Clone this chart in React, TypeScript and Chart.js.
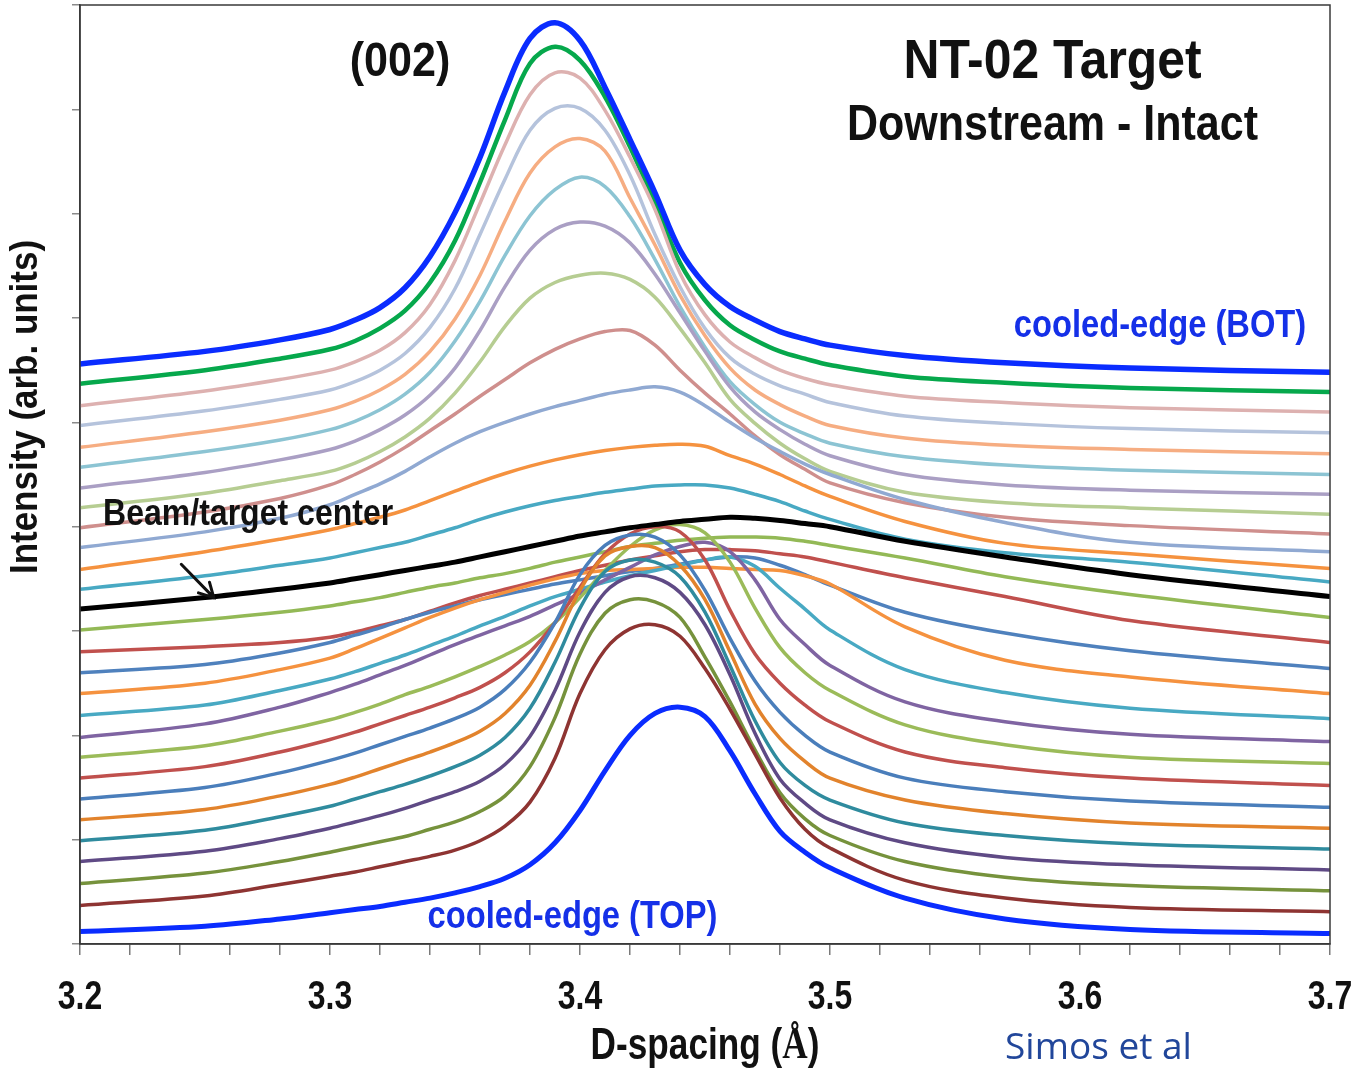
import { useEffect, useRef } from "react";
import { Chart, registerables } from "chart.js";

Chart.register(...registerables);

const W = 1359;
const H = 1071;

// D-spacing grid (Å) shared by every scan
const dSpacing = [3.2, 3.25, 3.28, 3.3, 3.31, 3.32, 3.33, 3.34, 3.35, 3.36, 3.37, 3.38, 3.39, 3.4, 3.41, 3.42, 3.43, 3.44, 3.45, 3.46, 3.47, 3.48, 3.49, 3.5, 3.53, 3.57, 3.62, 3.7];

// Stacked (002) profiles, from the cooled edge at the top (01) to the cooled edge at the bottom (28)
const scan01 = [0.12, 0.17, 0.24, 0.3, 0.33, 0.36, 0.4, 0.44, 0.49, 0.55, 0.63, 0.76, 0.97, 1.28, 1.66, 2.0, 2.21, 2.27, 2.18, 1.85, 1.44, 1.08, 0.88, 0.73, 0.44, 0.24, 0.14, 0.1];
const scan02 = [0.37, 0.46, 0.57, 0.65, 0.69, 0.74, 0.79, 0.84, 0.9, 0.99, 1.13, 1.36, 1.78, 2.4, 2.82, 3.02, 3.06, 2.95, 2.64, 2.25, 1.82, 1.4, 1.1, 0.92, 0.61, 0.44, 0.35, 0.31];
const scan03 = [0.58, 0.68, 0.79, 0.88, 0.93, 0.98, 1.03, 1.1, 1.17, 1.27, 1.42, 1.7, 2.17, 2.78, 3.17, 3.3, 3.28, 3.13, 2.75, 2.32, 1.86, 1.45, 1.2, 1.04, 0.79, 0.64, 0.56, 0.51];
const scan04 = [0.79, 0.89, 1.01, 1.11, 1.17, 1.23, 1.3, 1.38, 1.46, 1.56, 1.72, 1.99, 2.43, 2.99, 3.37, 3.52, 3.51, 3.37, 3.06, 2.58, 2.02, 1.58, 1.35, 1.19, 0.97, 0.83, 0.76, 0.71];
const scan05 = [0.99, 1.09, 1.22, 1.32, 1.39, 1.46, 1.53, 1.61, 1.7, 1.81, 1.98, 2.26, 2.7, 3.22, 3.57, 3.68, 3.66, 3.52, 3.18, 2.67, 2.14, 1.74, 1.52, 1.38, 1.16, 1.04, 0.96, 0.91];
const scan06 = [1.19, 1.29, 1.42, 1.53, 1.6, 1.68, 1.76, 1.84, 1.93, 2.04, 2.21, 2.48, 2.9, 3.39, 3.72, 3.81, 3.8, 3.63, 3.3, 2.8, 2.3, 1.97, 1.75, 1.59, 1.38, 1.25, 1.16, 1.11];
const scan07 = [1.39, 1.5, 1.64, 1.76, 1.83, 1.91, 1.99, 2.07, 2.16, 2.27, 2.44, 2.7, 3.08, 3.54, 3.82, 3.92, 3.9, 3.73, 3.39, 2.93, 2.52, 2.22, 2.0, 1.84, 1.59, 1.46, 1.37, 1.31];
const scan08 = [1.59, 1.7, 1.84, 1.96, 2.03, 2.11, 2.19, 2.27, 2.36, 2.46, 2.6, 2.8, 3.08, 3.42, 3.74, 3.93, 4.0, 3.95, 3.68, 3.2, 2.78, 2.5, 2.29, 2.13, 1.84, 1.69, 1.59, 1.52];
const scan09 = [1.79, 1.9, 2.04, 2.15, 2.22, 2.3, 2.39, 2.47, 2.56, 2.66, 2.77, 2.9, 3.08, 3.32, 3.58, 3.81, 3.97, 4.02, 3.94, 3.66, 3.22, 2.84, 2.6, 2.43, 2.1, 1.91, 1.79, 1.73];
const scan10 = [1.98, 2.11, 2.27, 2.41, 2.49, 2.58, 2.67, 2.77, 2.87, 2.96, 3.05, 3.14, 3.25, 3.36, 3.49, 3.61, 3.73, 3.81, 3.85, 3.76, 3.49, 3.11, 2.87, 2.67, 2.32, 2.13, 2.01, 1.94];
const scan11 = [2.19, 2.29, 2.43, 2.54, 2.61, 2.69, 2.77, 2.86, 2.95, 3.05, 3.14, 3.24, 3.33, 3.4, 3.47, 3.53, 3.58, 3.63, 3.68, 3.71, 3.62, 3.41, 3.21, 3.01, 2.63, 2.41, 2.26, 2.16];
const scan12 = [2.4, 2.5, 2.63, 2.74, 2.83, 2.93, 3.03, 3.13, 3.22, 3.3, 3.37, 3.44, 3.5, 3.55, 3.58, 3.59, 3.6, 3.61, 3.61, 3.6, 3.59, 3.58, 3.53, 3.45, 3.04, 2.72, 2.56, 2.4];
const scan13 = [2.6, 2.68, 2.79, 2.89, 2.96, 3.03, 3.11, 3.18, 3.24, 3.3, 3.35, 3.4, 3.45, 3.49, 3.53, 3.57, 3.6, 3.64, 3.68, 3.71, 3.7, 3.63, 3.54, 3.44, 3.18, 2.98, 2.81, 2.64];
const scan14 = [2.8, 2.85, 2.89, 2.94, 2.99, 3.05, 3.11, 3.19, 3.27, 3.34, 3.4, 3.46, 3.52, 3.58, 3.63, 3.68, 3.72, 3.76, 3.78, 3.78, 3.77, 3.74, 3.71, 3.66, 3.51, 3.33, 3.1, 2.89];
const scan15 = [3.01, 3.11, 3.18, 3.24, 3.28, 3.32, 3.37, 3.42, 3.46, 3.51, 3.55, 3.6, 3.66, 3.71, 3.76, 3.81, 3.84, 3.87, 3.89, 3.9, 3.9, 3.89, 3.86, 3.82, 3.7, 3.52, 3.35, 3.13];
const scan16 = [3.21, 3.32, 3.4, 3.46, 3.5, 3.54, 3.58, 3.62, 3.66, 3.71, 3.76, 3.81, 3.86, 3.91, 3.95, 3.99, 4.02, 4.05, 4.07, 4.09, 4.08, 4.06, 4.03, 4.0, 3.86, 3.71, 3.54, 3.33];
const scan17 = [3.4, 3.53, 3.63, 3.7, 3.75, 3.8, 3.85, 3.92, 3.99, 4.07, 4.14, 4.2, 4.25, 4.29, 4.33, 4.36, 4.39, 4.4, 4.4, 4.37, 4.31, 4.24, 4.15, 4.07, 3.88, 3.75, 3.66, 3.47];
const scan18 = [3.59, 3.76, 3.88, 3.97, 4.03, 4.09, 4.16, 4.25, 4.34, 4.43, 4.51, 4.58, 4.64, 4.69, 4.73, 4.76, 4.78, 4.79, 4.77, 4.68, 4.6, 4.5, 4.39, 4.29, 4.05, 3.84, 3.74, 3.6];
const scan19 = [3.8, 3.95, 4.08, 4.21, 4.31, 4.41, 4.53, 4.67, 4.8, 4.91, 5.0, 5.08, 5.15, 5.21, 5.27, 5.31, 5.34, 5.29, 5.16, 5.0, 4.85, 4.72, 4.6, 4.5, 4.26, 4.04, 3.85, 3.76];
const scan20 = [3.99, 4.14, 4.27, 4.4, 4.5, 4.62, 4.76, 4.92, 5.08, 5.25, 5.41, 5.57, 5.7, 5.8, 5.87, 5.88, 5.74, 5.5, 5.28, 5.08, 4.87, 4.69, 4.55, 4.42, 4.23, 4.09, 4.01, 3.93];
const scan21 = [4.18, 4.32, 4.44, 4.53, 4.61, 4.72, 4.86, 5.04, 5.28, 5.58, 5.92, 6.19, 6.34, 6.41, 6.43, 6.37, 6.2, 5.9, 5.57, 5.22, 4.99, 4.8, 4.65, 4.53, 4.33, 4.23, 4.18, 4.12];
const scan22 = [4.37, 4.52, 4.64, 4.74, 4.82, 4.93, 5.07, 5.26, 5.52, 5.88, 6.3, 6.65, 6.85, 6.92, 6.88, 6.72, 6.42, 6.05, 5.68, 5.34, 5.1, 4.93, 4.79, 4.68, 4.5, 4.4, 4.35, 4.31];
const scan23 = [4.57, 4.72, 4.83, 4.93, 5.01, 5.12, 5.27, 5.48, 5.78, 6.16, 6.6, 6.98, 7.23, 7.35, 7.26, 6.97, 6.56, 6.11, 5.72, 5.39, 5.17, 5.0, 4.89, 4.8, 4.67, 4.59, 4.54, 4.5];
const scan24 = [4.76, 4.91, 5.02, 5.12, 5.2, 5.31, 5.46, 5.68, 5.99, 6.41, 6.93, 7.39, 7.64, 7.72, 7.6, 7.15, 6.7, 6.22, 5.83, 5.52, 5.31, 5.17, 5.06, 4.97, 4.85, 4.78, 4.74, 4.7];
const scan25 = [4.97, 5.11, 5.22, 5.31, 5.39, 5.5, 5.66, 5.91, 6.28, 6.8, 7.33, 7.8, 8.01, 8.01, 7.8, 7.37, 6.8, 6.3, 5.9, 5.62, 5.46, 5.35, 5.27, 5.19, 5.06, 4.99, 4.94, 4.9];
const scan26 = [5.16, 5.3, 5.41, 5.5, 5.58, 5.69, 5.86, 6.13, 6.55, 7.1, 7.66, 8.14, 8.35, 8.3, 7.99, 7.54, 7.04, 6.43, 6.03, 5.77, 5.62, 5.5, 5.42, 5.36, 5.25, 5.19, 5.14, 5.1];
const scan27 = [5.37, 5.5, 5.61, 5.7, 5.78, 5.9, 6.07, 6.34, 6.74, 7.3, 7.9, 8.44, 8.6, 8.47, 8.12, 7.64, 7.1, 6.53, 6.17, 5.93, 5.79, 5.68, 5.61, 5.55, 5.44, 5.38, 5.33, 5.29];
const scan28 = [5.56, 5.68, 5.79, 5.89, 5.98, 6.1, 6.29, 6.59, 7.01, 7.54, 8.17, 8.68, 8.83, 8.66, 8.21, 7.71, 7.2, 6.65, 6.32, 6.11, 5.98, 5.87, 5.8, 5.74, 5.64, 5.57, 5.52, 5.48];

const scans = [
  scan01, scan02, scan03, scan04, scan05, scan06, scan07, scan08, scan09, scan10,
  scan11, scan12, scan13, scan14, scan15, scan16, scan17, scan18, scan19, scan20,
  scan21, scan22, scan23, scan24, scan25, scan26, scan27, scan28,
];

const scanColors = [
  "#0a2cff", "#8e3432", "#76923c", "#5f4a85", "#2f8b9e", "#e2832c", "#4a7ebb", "#c0504d",
  "#9bbb59", "#7f64a2", "#48a9c3", "#f5923f", "#4f81bd", "#c0504d", "#93b956", "#000000",
  "#48a9c3", "#f5923f", "#90a9d2", "#cf8f8d", "#b6cd92", "#aa9fc4", "#8cc4d3", "#f6ad82",
  "#b5c3dc", "#ddb1b0", "#06a84c", "#0a2cff",
];

const scanWidths = [
  5, 3.5, 3.5, 3.5, 3.5, 3.5, 3.5, 3.5, 3.5, 3.5, 3.5, 3.5, 3.5, 3.5, 3.5, 5,
  3.5, 3.5, 3.5, 3.5, 3.5, 3.5, 3.5, 3.5, 3.5, 3.5, 4.5, 5.5,
];

const xTicks = [3.2, 3.22, 3.24, 3.26, 3.28, 3.3, 3.32, 3.34, 3.36, 3.38, 3.4, 3.42, 3.44, 3.46, 3.48, 3.5, 3.52, 3.54, 3.56, 3.58, 3.6, 3.62, 3.64, 3.66, 3.68, 3.7];
const xTickLabels = ["3.2", "3.3", "3.4", "3.5", "3.6", "3.7"];
const yTicks = [0, 1, 2, 3, 4, 5, 6, 7, 8, 9];

const SANS = "'Liberation Sans', Arial, Helvetica, sans-serif";
const BLUE_TEXT = "#1530e8";

function drawText(
  ctx: CanvasRenderingContext2D,
  str: string,
  x: number,
  y: number,
  font: string,
  color: string,
  sx = 1,
  align: CanvasTextAlign = "center",
  rot = 0
) {
  ctx.save();
  ctx.translate(x, y);
  if (rot) ctx.rotate(rot);
  ctx.scale(sx, 1);
  ctx.font = font;
  ctx.fillStyle = color;
  ctx.textAlign = align;
  ctx.textBaseline = "middle";
  ctx.fillText(str, 0, 0);
  ctx.restore();
}

const decorations = {
  id: "decorations",
  afterDraw(chart: any) {
    const { ctx, chartArea: a, scales } = chart;
    const xs = scales.x;
    const ys = scales.y;
    const px = (v: number) => xs.getPixelForValue(v);
    const py = (v: number) => ys.getPixelForValue(v);

    ctx.save();
    // frame around the plot
    ctx.strokeStyle = "#3a3a3a";
    ctx.lineWidth = 1.5;
    ctx.strokeRect(a.left, a.top, a.right - a.left, a.bottom - a.top);

    // x tick labels at every 0.1 Å
    xTickLabels.forEach((lab) => {
      drawText(ctx, lab, px(parseFloat(lab)), 998, `bold 41px ${SANS}`, "#111", 0.78);
    });

    // axis titles
    drawText(ctx, "Intensity (arb. units)", 27, 407, `bold 38px ${SANS}`, "#111", 0.92, "center", -Math.PI / 2);

    const main = "D-spacing (";
    const sansFont = `bold 44px ${SANS}`;
    const serifFont = "bold 44px 'Liberation Serif', 'Times New Roman', serif";
    const sx = 0.8;
    ctx.font = sansFont;
    const w1 = ctx.measureText(main).width;
    const w3 = ctx.measureText(")").width;
    ctx.font = serifFont;
    const w2 = ctx.measureText("Å").width;
    const total = (w1 + w2 + w3) * sx;
    let cx = 705 - total / 2;
    drawText(ctx, main, cx, 1047, sansFont, "#111", sx, "left");
    cx += w1 * sx;
    drawText(ctx, "Å", cx, 1047, serifFont, "#111", sx, "left");
    cx += w2 * sx;
    drawText(ctx, ")", cx, 1047, sansFont, "#111", sx, "left");

    // panel annotations
    drawText(ctx, "(002)", px(3.328), py(8.45), `bold 49px ${SANS}`, "#111", 0.88);
    drawText(ctx, "NT-02 Target", px(3.589), py(8.45), `bold 56px ${SANS}`, "#111", 0.89);
    drawText(ctx, "Downstream - Intact", px(3.589), py(7.84), `bold 50px ${SANS}`, "#111", 0.86);
    drawText(ctx, "cooled-edge (BOT)", px(3.632), py(5.92), `bold 38px ${SANS}`, BLUE_TEXT, 0.86);
    drawText(ctx, "cooled-edge (TOP)", px(3.397), py(0.25), `bold 38px ${SANS}`, BLUE_TEXT, 0.86);
    drawText(ctx, "Beam/target center", px(3.2092), py(4.11), `bold 36px ${SANS}`, "#111", 0.89, "left");

    // arrow pointing at the beam-centre profile
    const x0 = px(3.2405), y0 = py(3.64);
    const x1 = px(3.2535), y1 = py(3.32);
    ctx.strokeStyle = "#111";
    ctx.lineWidth = 3;
    ctx.lineCap = "round";
    ctx.beginPath();
    ctx.moveTo(x0, y0);
    ctx.lineTo(x1, y1);
    const ang = Math.atan2(y1 - y0, x1 - x0);
    const hl = 16;
    ctx.moveTo(x1 - hl * Math.cos(ang - 0.5), y1 - hl * Math.sin(ang - 0.5));
    ctx.lineTo(x1, y1);
    ctx.lineTo(x1 - hl * Math.cos(ang + 0.5), y1 - hl * Math.sin(ang + 0.5));
    ctx.stroke();

    // source credit
    drawText(ctx, "Simos et al", 1005, 1048, "37px 'Open Sans', 'Noto Sans', sans-serif", "#21469a", 1.0, "left");
    ctx.restore();
  },
};

export default function App() {
  const ref = useRef<HTMLCanvasElement | null>(null);

  useEffect(() => {
    document.body.style.margin = "0";
    const canvas = ref.current;
    if (!canvas) return;

    const datasets = scans.map((s, i) => ({
      label: `scan ${i + 1}`,
      data: dSpacing.map((d, j) => ({ x: d, y: s[j] })),
      borderColor: scanColors[i],
      borderWidth: scanWidths[i],
      pointRadius: 0,
      fill: false,
      tension: 0.35,
      order: i === 0 || i === 15 || i === 27 ? 0 : 1,
    }));

    const chart = new Chart(canvas, {
      type: "line",
      data: { datasets },
      options: {
        responsive: false,
        animation: false,
        devicePixelRatio: 1,
        layout: { padding: { top: 5, right: 29, left: 0, bottom: 0 } },
        plugins: { legend: { display: false }, tooltip: { enabled: false } },
        scales: {
          x: {
            type: "linear",
            min: 3.2,
            max: 3.7,
            afterBuildTicks: (scale: any) => {
              scale.ticks = xTicks.map((v) => ({ value: v }));
            },
            afterFit: (scale: any) => {
              scale.height = H - 944;
            },
            ticks: { display: false },
            grid: {
              display: true,
              drawOnChartArea: false,
              drawTicks: true,
              tickLength: 11,
              color: "#7a7a7a",
              lineWidth: 1.5,
            },
            border: { display: true, color: "#3a3a3a", width: 1.5 },
          },
          y: {
            type: "linear",
            min: 0,
            max: 9,
            afterBuildTicks: (scale: any) => {
              scale.ticks = yTicks.map((v) => ({ value: v }));
            },
            afterFit: (scale: any) => {
              scale.width = 80;
            },
            ticks: { display: false },
            grid: {
              display: true,
              drawOnChartArea: false,
              drawTicks: true,
              tickLength: 8,
              color: "#8a8a8a",
              lineWidth: 1.5,
            },
            border: { display: true, color: "#3a3a3a", width: 1.5 },
          },
        },
      },
      plugins: [decorations],
    });

    return () => chart.destroy();
  }, []);

  return (
    <div style={{ position: "absolute", left: 0, top: 0, width: W, height: H, background: "#fff" }}>
      <canvas ref={ref} width={W} height={H} style={{ display: "block", width: W, height: H }} />
    </div>
  );
}
